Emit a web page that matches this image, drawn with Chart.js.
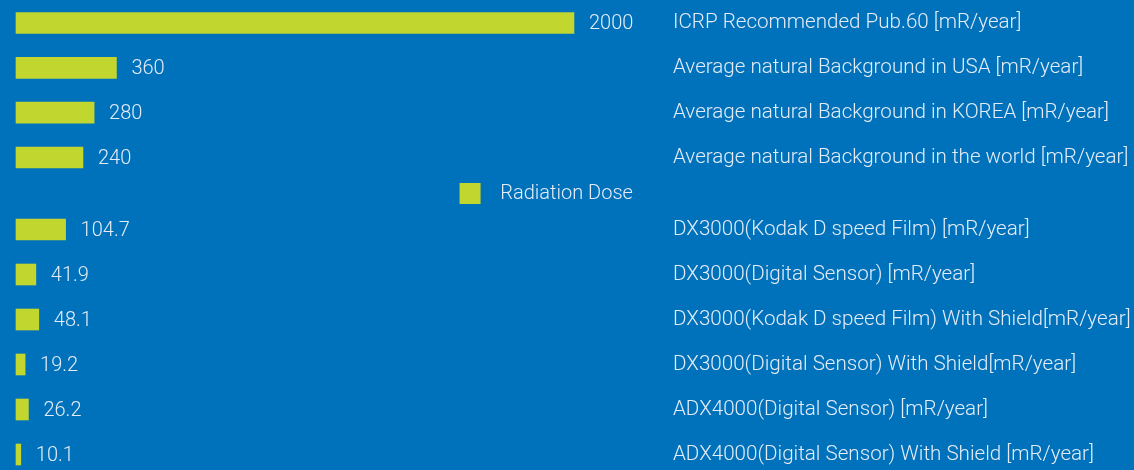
<!DOCTYPE html>
<html>
<head>
<meta charset="utf-8">
<script src="https://cdn.jsdelivr.net/npm/chart.js@4/dist/chart.umd.min.js"></script>
<style>
  html, body { margin: 0; padding: 0; background: #0071bb; }
  #wrap { position: relative; width: 1134px; height: 470px; overflow: hidden; }
  .box { position: absolute; left: 0; width: 1134px; }
  #topBox { top: 0; height: 220px; }
  #bottomBox { top: 200px; height: 270px; }
</style>
</head>
<body>
<div id="wrap">
  <div class="box" id="topBox"><canvas id="topChart"></canvas></div>
  <div class="box" id="bottomBox"><canvas id="bottomChart"></canvas></div>
</div>
<script>
// Datos de referencia (mR/year)
const seriesName = 'Radiation Dose';

const refLabels = [
  'ICRP Recommended Pub.60 [mR/year]',
  'Average natural Background in USA [mR/year]',
  'Average natural Background in KOREA [mR/year]',
  'Average natural Background in the world [mR/year]'
];
const refValues = [2000, 360, 280, 240];

const deviceLabels = [
  'DX3000(Kodak D speed Film) [mR/year]',
  'DX3000(Digital Sensor) [mR/year]',
  'DX3000(Kodak D speed Film) With Shield[mR/year]',
  'DX3000(Digital Sensor) With Shield[mR/year]',
  'ADX4000(Digital Sensor) [mR/year]',
  'ADX4000(Digital Sensor) With Shield [mR/year]'
];
const deviceValues = [104.7, 41.9, 48.1, 19.2, 26.2, 10.1];

const barColor = '#c1d72f';
const textColor = '#e4edf7';
const tickFont = { family: 'Roboto', size: 20.6, weight: '300' };
const legendFont = { family: 'Roboto', size: 20, weight: '300' };

// Escribir el valor a la derecha de cada barra
const valueLabels = {
  id: 'valueLabels',
  afterDatasetsDraw(chart) {
    const ctx = chart.ctx;
    ctx.save();
    ctx.font = '300 20px Roboto';
    ctx.fillStyle = textColor;
    ctx.textAlign = 'left';
    ctx.textBaseline = 'middle';
    chart.getDatasetMeta(0).data.forEach((bar, i) => {
      ctx.fillText(String(chart.data.datasets[0].data[i]), bar.x + 15, bar.y + 1);
    });
    ctx.restore();
  }
};

function makeChart(id, labels, values, xMax, showLegend, padTop, padBottom) {
  return new Chart(document.getElementById(id), {
    type: 'bar',
    data: {
      labels: labels,
      datasets: [{
        label: seriesName,
        data: values,
        backgroundColor: barColor,
        barThickness: 21,
        clip: false
      }]
    },
    options: {
      indexAxis: 'y',
      responsive: true,
      maintainAspectRatio: false,
      animation: false,
      layout: { padding: { left: 16, right: 0, top: padTop, bottom: padBottom } },
      scales: {
        x: { display: false, min: 0, max: xMax },
        y: {
          position: 'right',
          offset: false,
          grid: { display: false, drawTicks: false },
          border: { display: false },
          ticks: { color: textColor, font: tickFont, padding: 0 },
          afterFit(scale) { scale.width = 461; }
        }
      },
      plugins: {
        tooltip: { enabled: false },
        legend: {
          display: showLegend,
          position: 'bottom',
          fullSize: false,
          align: 'end',
          labels: {
            color: textColor,
            font: legendFont,
            boxWidth: 21,
            boxHeight: 21,
            padding: 25.5,
            generateLabels(chart) {
              // espacios para separar la caja del texto como en el original
              return Chart.defaults.plugins.legend.labels.generateLabels(chart).map(item => {
                item.text = '  ' + item.text + '   ';
                item.lineWidth = 0;
                return item;
              });
            }
          }
        }
      }
    },
    plugins: [valueLabels]
  });
}

makeChart('topChart', refLabels, refValues, 2355, true, 23, 6);
makeChart('bottomChart', deviceLabels, deviceValues, 1387, false, 29.5, 15.5);
</script>
</body>
</html>
